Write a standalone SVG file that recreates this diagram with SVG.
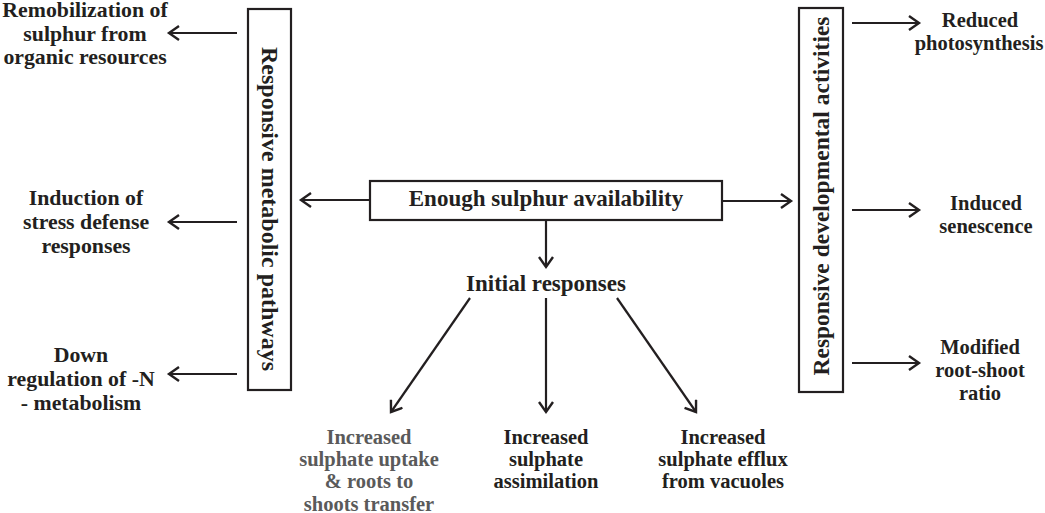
<svg xmlns="http://www.w3.org/2000/svg" width="1045" height="513" viewBox="0 0 1045 513">
<style>
text{font-family:"Liberation Serif","Times New Roman",serif;font-weight:bold;fill:#231f20;text-anchor:middle}
.l{font-size:21.8px}
.r{font-size:20.5px}
.b{font-size:20.5px}
.c{font-size:23px}
.g{fill:#5a5a5a}
.box{fill:#fff;stroke:#231f20;stroke-width:2.2}
.ln{stroke:#231f20;stroke-width:2.2;fill:none;marker-end:url(#ah)}
</style>
<defs>
<marker id="ah" markerUnits="userSpaceOnUse" markerWidth="16" markerHeight="18" refX="11" refY="8" orient="auto" viewBox="0 0 16 18">
<path d="M1,1 L11,8 L1,15" fill="none" stroke="#231f20" stroke-width="2.4" stroke-linejoin="miter"/>
</marker>
</defs>
<rect width="1045" height="513" fill="#fff"/>
<g id="connectors">
<line class="ln" x1="237" y1="33" x2="169" y2="33"/>
<line class="ln" x1="237" y1="222" x2="169" y2="222"/>
<line class="ln" x1="237" y1="374" x2="169" y2="374"/>
<line class="ln" x1="370" y1="200" x2="301" y2="200"/>
<line class="ln" x1="722" y1="201" x2="791" y2="201"/>
<line class="ln" x1="546" y1="220" x2="546" y2="267"/>
<line class="ln" x1="852" y1="23" x2="919" y2="23"/>
<line class="ln" x1="852" y1="210" x2="919" y2="210"/>
<line class="ln" x1="852" y1="363" x2="919" y2="363"/>
<line class="ln" x1="470" y1="298" x2="391" y2="412"/>
<line class="ln" x1="546" y1="298" x2="546" y2="412"/>
<line class="ln" x1="617" y1="298" x2="696" y2="412"/>
</g>
<g id="metabolic">
<rect class="box" x="248" y="9" width="43" height="381"/>
<text style="font-size:24px" transform="translate(262,209) rotate(90)">Responsive metabolic pathways</text>
</g>
<g id="developmental">
<rect class="box" x="799" y="8" width="44" height="384"/>
<text style="font-size:23.5px" transform="translate(829,196) rotate(-90)">Responsive developmental activities</text>
</g>
<g id="enough">
<rect class="box" x="370" y="181" width="352" height="39"/>
<text class="c" x="546" y="206">Enough sulphur availability</text>
</g>
<g id="initial">
<text class="c" x="546" y="291">Initial responses</text>
</g>
<g id="remobilization">
<text class="l" x="85" y="17">Remobilization of</text>
<text class="l" x="85" y="41">sulphur from</text>
<text class="l" x="85" y="64">organic resources</text>
</g>
<g id="induction">
<text class="l" x="86" y="205">Induction of</text>
<text class="l" x="86" y="229">stress defense</text>
<text class="l" x="86" y="253">responses</text>
</g>
<g id="downreg">
<text class="l" x="81" y="362">Down</text>
<text class="l" x="81" y="386">regulation of -N</text>
<text class="l" x="81" y="410">- metabolism</text>
</g>
<g id="reduced">
<text class="r" x="980" y="27">Reduced</text>
<text class="r" x="979" y="50">photosynthesis</text>
</g>
<g id="senescence">
<text class="r" x="986" y="210">Induced</text>
<text class="r" x="986" y="233">senescence</text>
</g>
<g id="rootshoot">
<text class="r" x="980" y="354">Modified</text>
<text class="r" x="980" y="377">root-shoot</text>
<text class="r" x="980" y="400">ratio</text>
</g>
<g id="uptake">
<text class="b g" x="369" y="444">Increased</text>
<text class="b g" x="369" y="466">sulphate uptake</text>
<text class="b g" x="369" y="488">&amp; roots to</text>
<text class="b g" x="369" y="511">shoots transfer</text>
</g>
<g id="assimilation">
<text class="b" x="546" y="444">Increased</text>
<text class="b" x="546" y="466">sulphate</text>
<text class="b" x="546" y="488">assimilation</text>
</g>
<g id="efflux">
<text class="b" x="723" y="444">Increased</text>
<text class="b" x="723" y="466">sulphate efflux</text>
<text class="b" x="723" y="488">from vacuoles</text>
</g>
</svg>
